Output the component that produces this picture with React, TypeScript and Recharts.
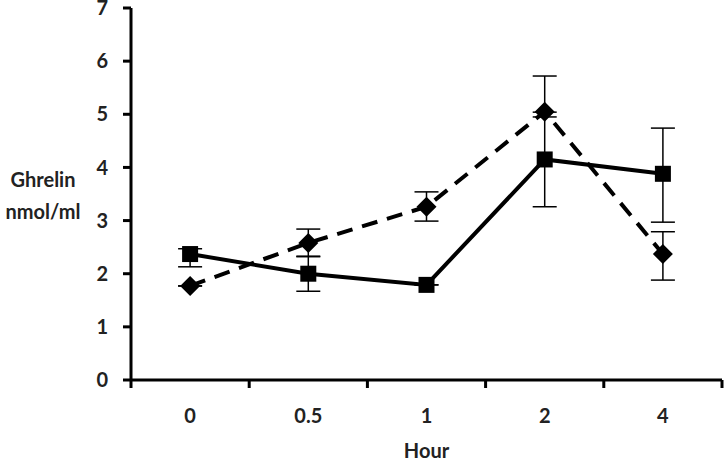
import { LineChart, Line, XAxis, YAxis, ErrorBar } from 'recharts'

const hours = ['0', '0.5', '1', '2', '4']
const squareMean = [2.37, 2.0, 1.79, 4.15, 3.88]
// [below, above]
const squareErr = [[0.24, 0.1], [0.33, 0.33], [0, 0], [0.89, 0.89], [0.91, 0.86]]
const diamondMean = [1.77, 2.58, 3.26, 5.05, 2.37]
const diamondErr = [[0, 0], [0.26, 0.26], [0.27, 0.28], [0.1, 0.67], [0.49, 0.42]]
const yTicks = [0, 1, 2, 3, 4, 5, 6, 7]

const data = hours.map((h, i) => ({
  idx: i,
  hour: h,
  sq: squareMean[i],
  sqErr: squareErr[i],
  dm: diamondMean[i],
  dmErr: diamondErr[i],
}))

const FONT = 'Lato, "Open Sans", sans-serif'

const SquareDot = (props: any) => {
  const { cx, cy } = props
  if (cx == null || cy == null) return null
  const s = 8
  return <rect x={cx - s} y={cy - s} width={s * 2} height={s * 2} fill="#000" />
}

const DiamondDot = (props: any) => {
  const { cx, cy } = props
  if (cx == null || cy == null) return null
  const r = 10
  return (
    <path
      d={`M${cx},${cy - r} L${cx + r},${cy} L${cx},${cy + r} L${cx - r},${cy} Z`}
      fill="#000"
    />
  )
}

const YLabel = (props: any) => {
  const { viewBox } = props
  const cx = viewBox.x + 43
  const cy = viewBox.y + viewBox.height / 2
  return (
    <text textAnchor="middle" fontFamily={FONT} fontWeight={700} fontSize={20} fill="#222">
      <tspan x={cx} y={cy - 7}>Ghrelin</tspan>
      <tspan x={cx} y={cy + 25}>nmol/ml</tspan>
    </text>
  )
}

export default function App() {
  return (
    <div style={{ position: 'absolute', left: 0, top: 0, background: '#fff' }}>
      <LineChart
        width={725}
        height={461}
        data={data}
        margin={{ top: 8, right: 3, left: 0, bottom: 0 }}
      >
        <XAxis
          xAxisId="b"
          dataKey="idx"
          type="number"
          domain={[-0.5, 4.5]}
          ticks={[0, 1, 2, 3, 4]}
          tickFormatter={(v: number) => hours[v]}
          height={69}
          axisLine={false}
          tickLine={false}
          tickSize={0}
          tickMargin={17}
          tick={{ fill: '#222', fontFamily: FONT, fontWeight: 700, fontSize: 20 }}
          label={{
            value: 'Hour',
            position: 'insideBottom',
            offset: 3,
            fill: '#222',
            fontFamily: FONT,
            fontWeight: 700,
            fontSize: 20,
          }}
        />
        <XAxis
          xAxisId="a"
          dataKey="idx"
          type="number"
          domain={[-0.5, 4.5]}
          ticks={[-0.5, 0.5, 1.5, 2.5, 3.5, 4.5]}
          tickFormatter={() => ''}
          height={12}
          tickSize={8}
          axisLine={{ stroke: '#000', strokeWidth: 3 }}
          tickLine={{ stroke: '#000', strokeWidth: 3 }}
        />
        <YAxis
          domain={[0, 7]}
          ticks={yTicks}
          width={131}
          tickSize={8}
          tickMargin={15}
          interval={0}
          axisLine={{ stroke: '#000', strokeWidth: 3 }}
          tickLine={{ stroke: '#000', strokeWidth: 3 }}
          tick={{ fill: '#222', fontFamily: FONT, fontWeight: 700, fontSize: 20 }}
          label={{ content: YLabel }}
        />
        <Line
          xAxisId="a"
          dataKey="sq"
          type="linear"
          stroke="#000"
          strokeWidth={4}
          dot={<SquareDot />}
          activeDot={false}
          isAnimationActive={false}
        >
          <ErrorBar dataKey="sqErr" width={12} stroke="#000" strokeWidth={1.5} isAnimationActive={false} />
        </Line>
        <Line
          xAxisId="a"
          dataKey="dm"
          type="linear"
          stroke="#000"
          strokeWidth={4}
          strokeDasharray="16 10"
          dot={<DiamondDot />}
          activeDot={false}
          isAnimationActive={false}
        >
          <ErrorBar dataKey="dmErr" width={12} stroke="#000" strokeWidth={1.5} isAnimationActive={false} />
        </Line>
      </LineChart>
    </div>
  )
}
